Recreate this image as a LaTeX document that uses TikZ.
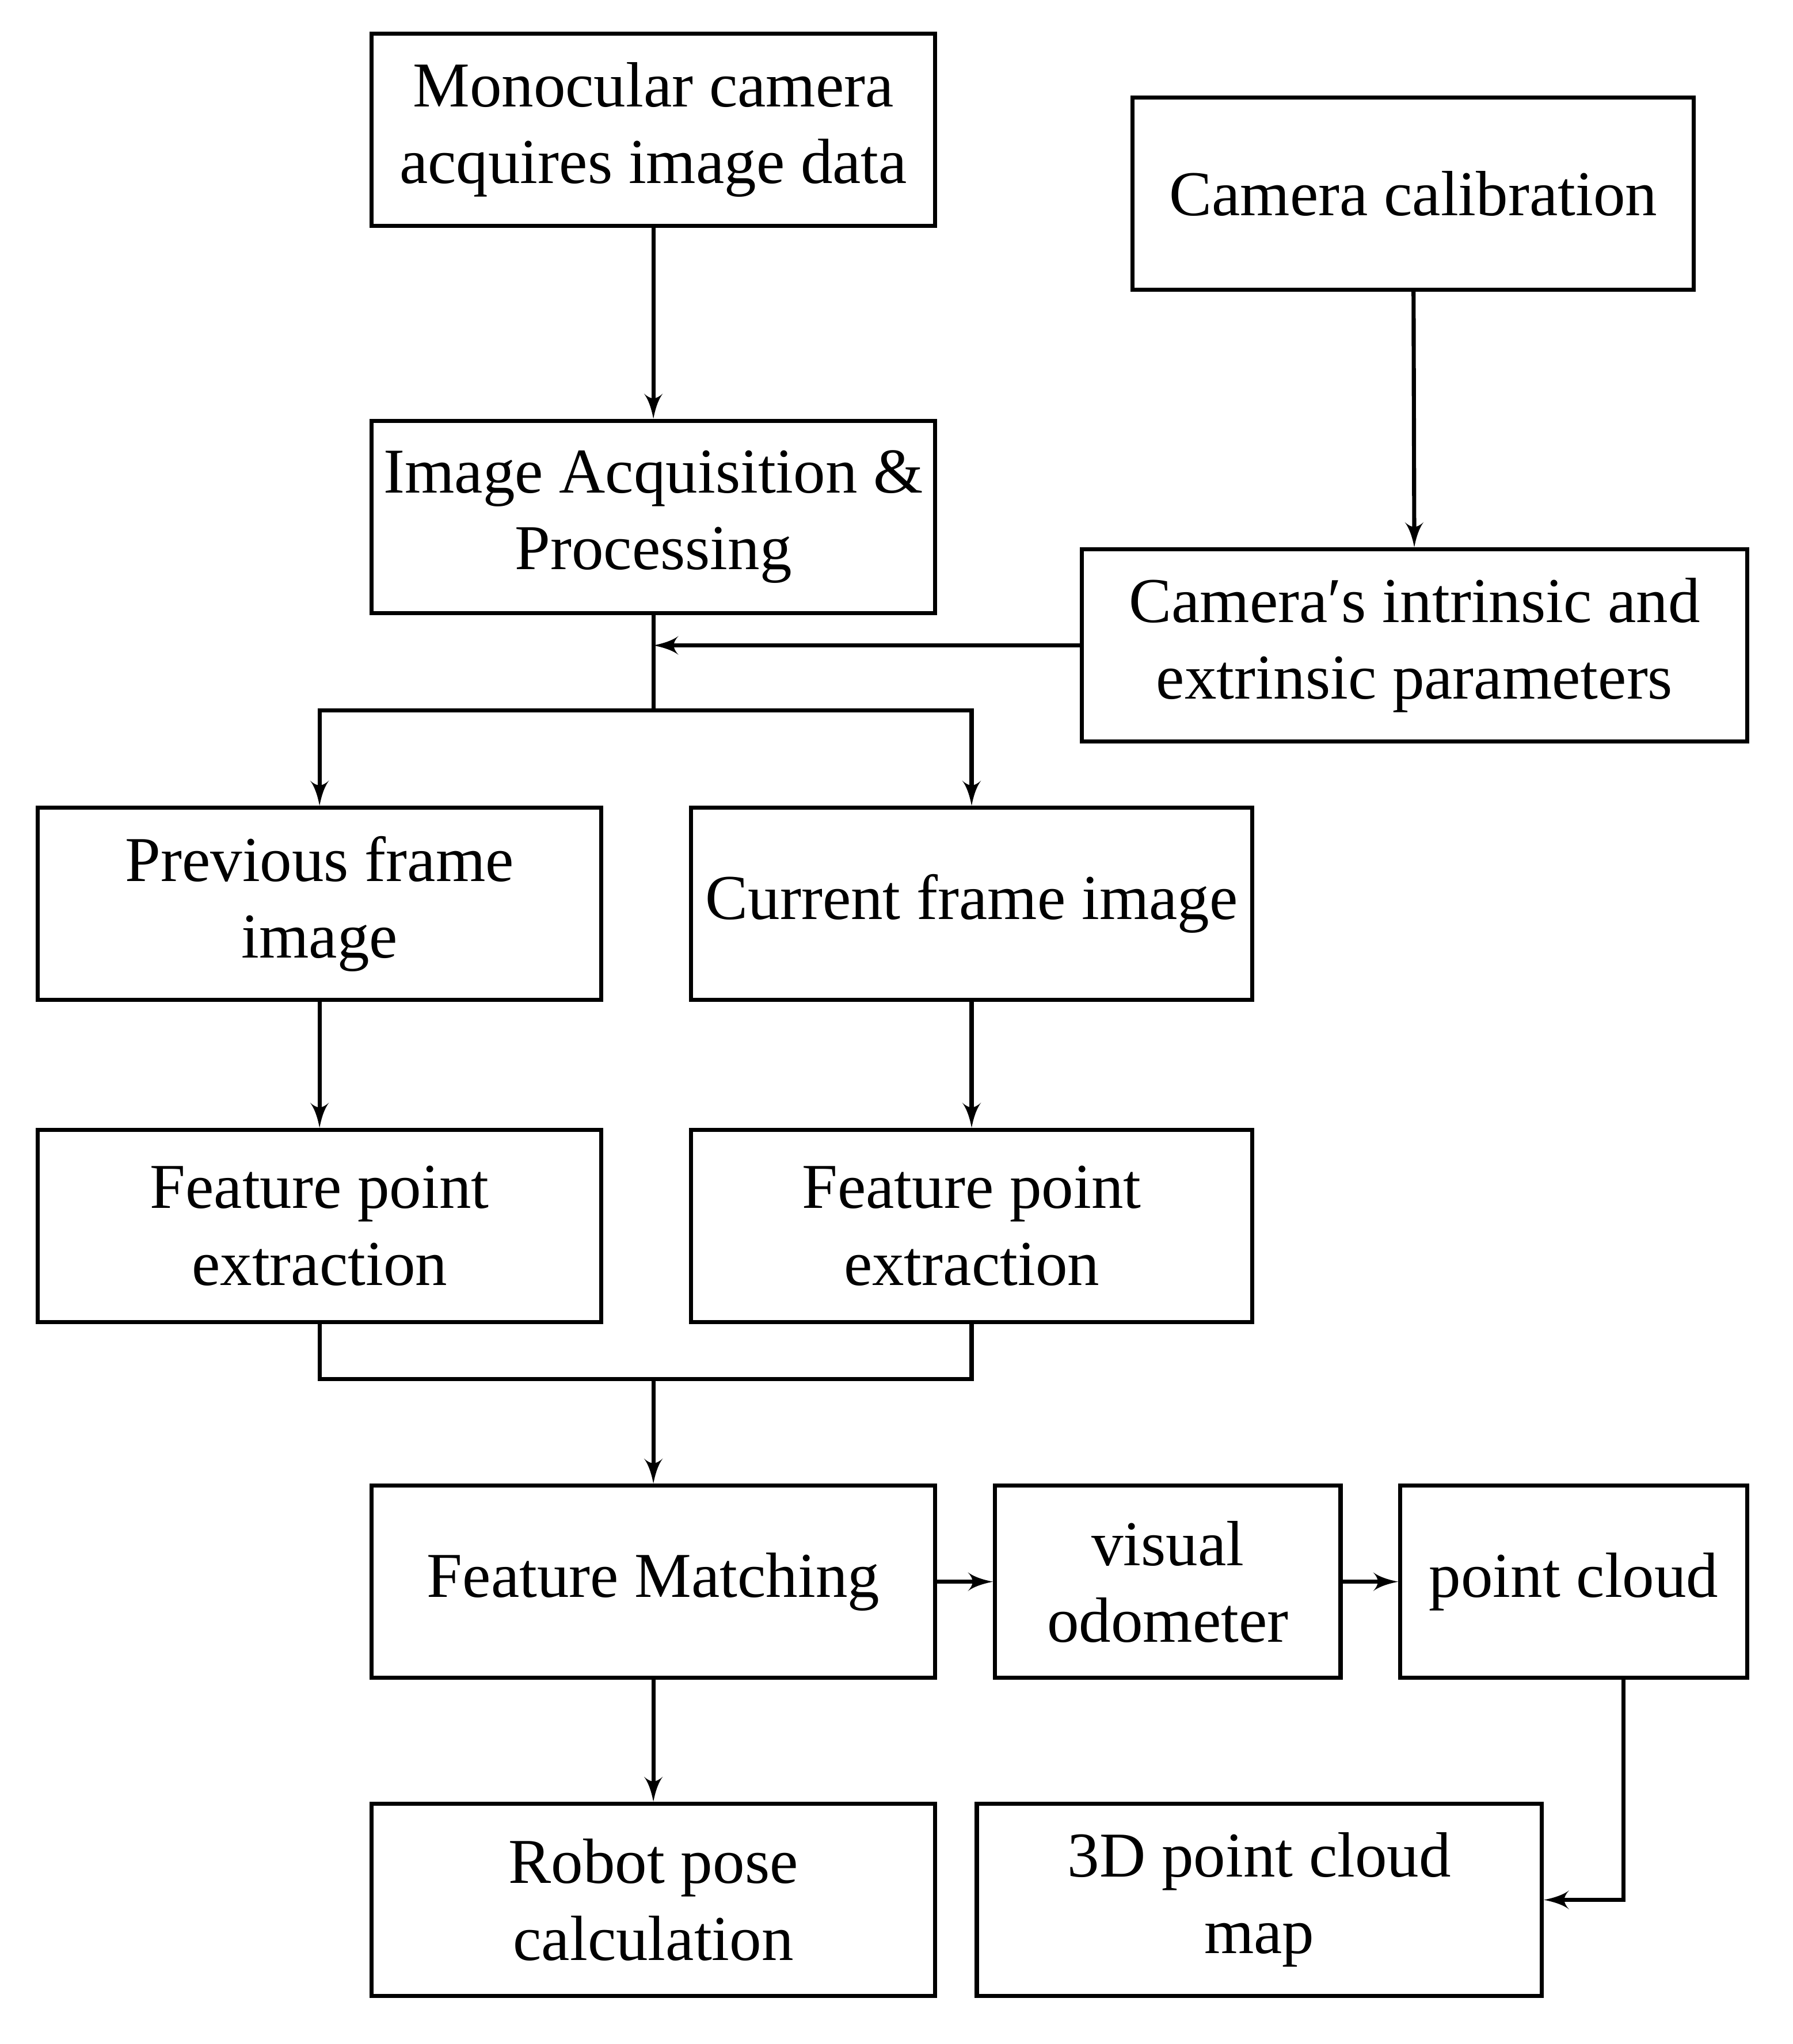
\documentclass[tikz,border=0pt]{standalone}
\usepackage{fontspec}
\setmainfont{Liberation Serif}
\usetikzlibrary{arrows,calc,positioning}
\begin{document}
\begin{tikzpicture}[->,>=latex',line width=0.9pt,
  box/.style={draw,rectangle,-,align=center,minimum height=1.48cm,inner sep=2pt,
    font=\fontsize{14}{16.8}\selectfont}]
\useasboundingbox (0,0) rectangle (13.8,-15.74);

\node[box,minimum width=4.34cm] (mono) at (5.03,-1.00) {Monocular camera\\acquires image data};
\node[box,minimum width=4.32cm] (calib) at (10.88,-1.49) {Camera calibration};
\node[box,minimum width=4.34cm] (acq) at (5.03,-3.98) {Image Acquisition \&\\Processing};
\node[box,minimum width=5.12cm] (param) at (10.89,-4.97) {Camera′s intrinsic and\\extrinsic parameters};
\node[box,minimum width=4.34cm] (prev) at (2.46,-6.96) {Previous frame\\image};
\node[box,minimum width=4.32cm] (curr) at (7.48,-6.96) {Current frame image};
\node[box,minimum width=4.34cm] (fpl) at (2.46,-9.44) {Feature point\\extraction};
\node[box,minimum width=4.32cm] (fpr) at (7.48,-9.44) {Feature point\\extraction};
\node[box,minimum width=4.34cm] (match) at (5.03,-12.18) {Feature Matching};
\node[box,minimum width=2.66cm] (odo) at (8.99,-12.18) {visual\\odometer};
\node[box,minimum width=2.67cm] (cloud) at (12.115,-12.18) {point cloud};
\node[box,minimum width=4.34cm] (pose) at (5.03,-14.63) {Robot pose\\calculation};
\node[box,minimum width=4.35cm] (map) at (9.695,-14.63) {3D point cloud\\map};

\coordinate (split) at (5.03,-5.47);
\coordinate (join) at (5.03,-10.62);

\draw (mono) -- (acq);
\draw (calib) -- (param);
\draw (param.west) -- (5.03,-4.97);
\draw[-] (acq.south) -- (split);
\draw (split) -| (prev);
\draw (split) -| (curr);
\draw (prev) -- (fpl);
\draw (curr) -- (fpr);
\draw[-] (fpl.south) |- (join) -| (fpr.south);
\draw (join) -- (match);
\draw (match) -- (odo);
\draw (odo) -- (cloud);
\draw (match) -- (pose);
\draw (cloud.south -| 12.5,0) |- (map.east);
\end{tikzpicture}
\end{document}
